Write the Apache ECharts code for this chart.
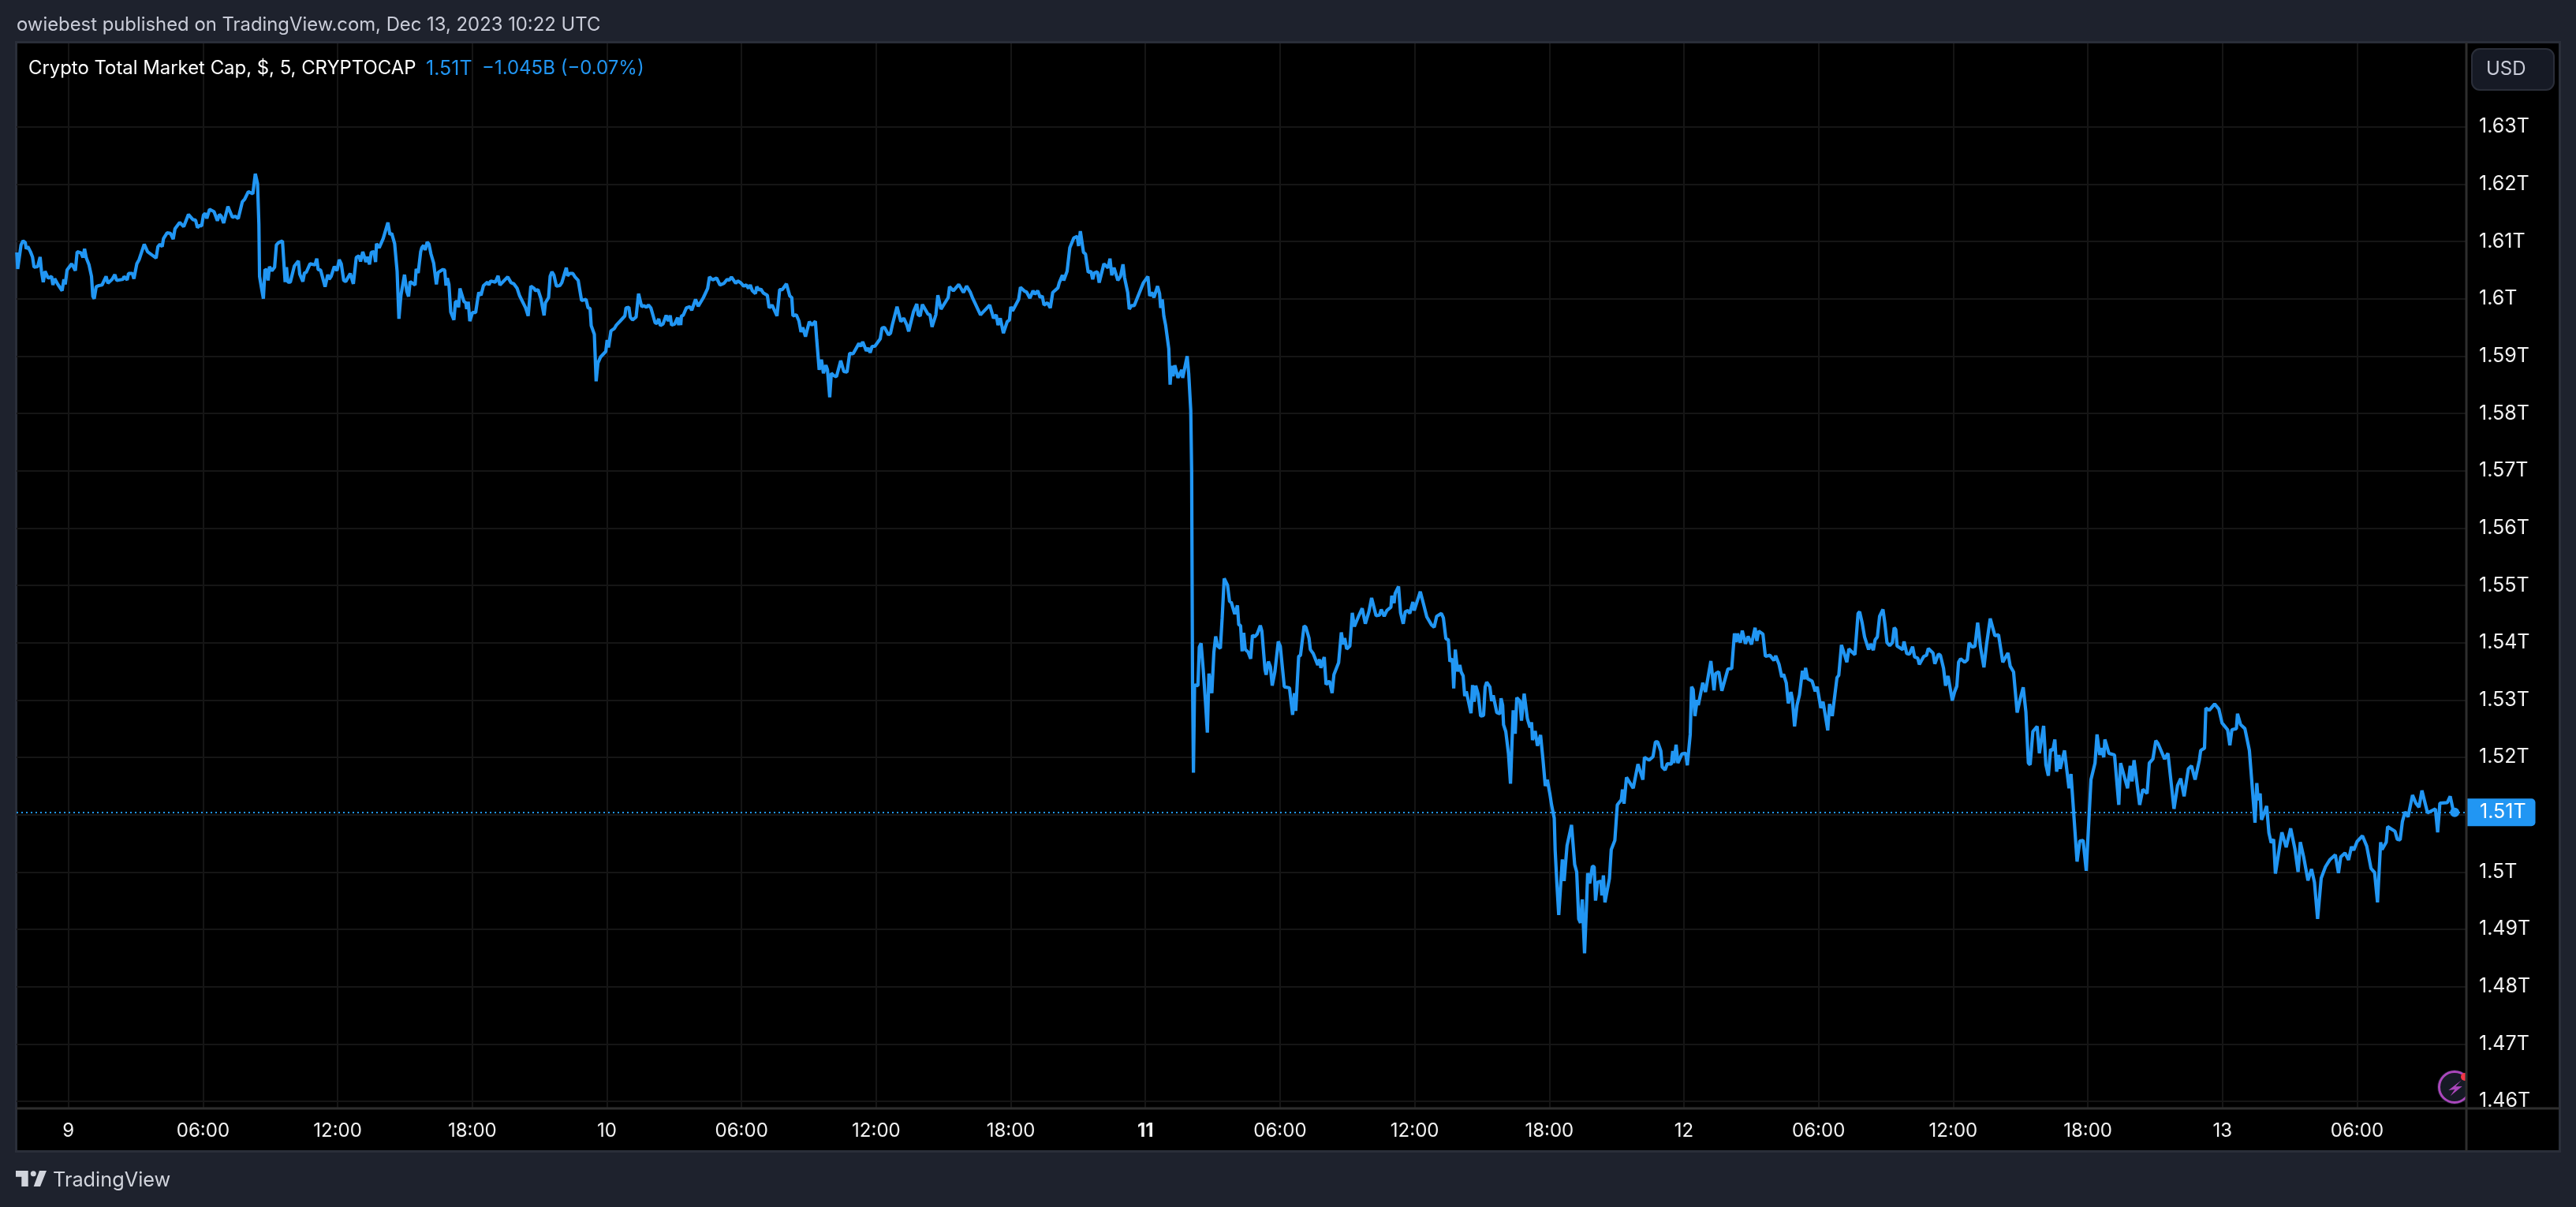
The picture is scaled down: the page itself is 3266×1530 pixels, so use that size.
<!DOCTYPE html>
<html>
<head>
<meta charset="utf-8">
<title>Crypto Total Market Cap</title>
<script src="https://cdn.jsdelivr.net/npm/echarts@6/dist/echarts.min.js"></script>
<style>
  html, body { margin: 0; height: 100%; background: #1e222d; }
  #main { width: 100%; height: 100%; }
</style>
</head>
<body>
<div id="main"></div>
<script>
// x = hours since Dec 9 00:00 UTC, y = market cap in billions
const capByHour = [
  [-2.30,1608.1],[-2.26,1605.2],[-2.22,1605.0],[-2.11,1609.4],[-2.02,1610.1],[-1.92,1609.8],[-1.88,1608.7],[-1.81,1609.1],
  [-1.69,1608.2],[-1.60,1607.3],[-1.53,1605.5],[-1.37,1605.6],[-1.26,1607.3],[-1.20,1604.8],[-1.12,1602.9],[-1.04,1604.8],
  [-0.99,1604.8],[-0.90,1603.6],[-0.75,1603.9],[-0.69,1602.4],[-0.61,1603.5],[-0.47,1602.5],[-0.28,1601.4],[-0.20,1603.4],
  [-0.14,1602.5],[-0.06,1605.0],[0.15,1606.1],[0.31,1604.9],[0.39,1608.2],[0.56,1608.0],[0.65,1607.2],[0.72,1608.7],
  [0.80,1607.1],[0.92,1605.9],[1.03,1603.9],[1.09,1600.4],[1.15,1600.0],[1.24,1602.1],[1.36,1602.3],[1.50,1602.4],
  [1.68,1603.9],[1.76,1602.7],[1.95,1603.4],[2.07,1604.2],[2.15,1603.2],[2.44,1603.4],[2.48,1603.9],[2.62,1603.3],
  [2.68,1604.4],[2.85,1604.4],[2.92,1603.5],[3.05,1606.1],[3.15,1606.8],[3.38,1609.5],[3.53,1608.2],[3.91,1607.1],
  [3.99,1609.1],[4.08,1609.5],[4.18,1609.1],[4.24,1610.5],[4.40,1611.5],[4.55,1611.4],[4.67,1610.4],[4.75,1612.2],
  [4.96,1613.3],[5.14,1612.6],[5.35,1614.7],[5.55,1613.8],[5.67,1613.7],[5.75,1612.4],[5.85,1612.8],[5.94,1612.7],
  [6.02,1614.6],[6.10,1614.9],[6.17,1614.0],[6.29,1615.6],[6.49,1615.2],[6.64,1613.6],[6.73,1614.7],[6.81,1614.4],
  [6.92,1613.2],[7.11,1616.1],[7.31,1614.2],[7.43,1614.4],[7.57,1614.0],[7.75,1616.9],[7.86,1617.4],[8.02,1618.7],
  [8.22,1618.3],[8.33,1621.8],[8.43,1620.1],[8.49,1613.0],[8.52,1603.9],[8.60,1602.0],[8.69,1600.0],[8.76,1605.1],
  [8.84,1605.0],[8.90,1603.2],[8.96,1605.6],[9.07,1604.9],[9.19,1605.5],[9.27,1609.4],[9.37,1609.8],[9.54,1610.1],
  [9.66,1602.9],[9.72,1605.5],[9.78,1602.9],[9.89,1602.9],[10.07,1605.7],[10.25,1606.6],[10.31,1604.3],[10.45,1603.0],
  [10.52,1604.5],[10.60,1604.6],[10.77,1606.1],[10.99,1605.9],[11.07,1607.0],[11.13,1605.1],[11.24,1605.0],[11.44,1602.1],
  [11.56,1604.2],[11.62,1603.4],[11.71,1603.9],[11.85,1605.6],[11.97,1604.9],[12.07,1606.8],[12.16,1606.1],[12.27,1603.2],
  [12.36,1603.0],[12.56,1604.4],[12.70,1602.6],[12.83,1607.2],[12.95,1607.5],[13.02,1606.5],[13.12,1608.2],[13.26,1606.4],
  [13.33,1607.3],[13.42,1606.0],[13.50,1608.1],[13.62,1608.2],[13.69,1606.4],[13.73,1609.6],[13.85,1608.9],[14.03,1610.5],
  [14.24,1613.3],[14.33,1611.2],[14.41,1611.4],[14.54,1609.6],[14.65,1604.8],[14.73,1596.5],[14.82,1600.6],[14.98,1604.2],
  [15.02,1604.2],[15.08,1601.3],[15.16,1600.4],[15.23,1603.0],[15.45,1602.4],[15.50,1605.2],[15.59,1604.5],[15.70,1608.2],
  [15.75,1608.9],[15.83,1609.3],[15.90,1608.5],[15.99,1609.9],[16.07,1609.5],[16.16,1607.8],[16.28,1606.2],[16.40,1602.5],
  [16.48,1604.6],[16.55,1604.4],[16.69,1605.1],[16.77,1605.0],[16.83,1602.3],[16.89,1603.6],[16.96,1602.5],[17.00,1602.3],
  [17.04,1597.7],[17.18,1596.3],[17.25,1599.5],[17.33,1599.5],[17.39,1598.5],[17.45,1601.8],[17.63,1599.5],[17.71,1599.3],
  [17.75,1598.2],[17.82,1599.5],[17.89,1596.1],[18.01,1597.6],[18.15,1597.6],[18.25,1600.2],[18.29,1601.1],[18.39,1600.6],
  [18.50,1602.3],[18.68,1602.9],[18.74,1602.4],[18.82,1603.1],[19.03,1602.9],[19.15,1604.0],[19.23,1602.4],[19.58,1603.8],
  [19.73,1602.8],[19.85,1602.6],[20.00,1601.8],[20.11,1600.5],[20.38,1598.4],[20.49,1597.0],[20.61,1602.2],[20.76,1601.8],
  [20.81,1601.4],[20.93,1601.6],[21.06,1600.0],[21.20,1597.1],[21.26,1599.3],[21.40,1600.2],[21.47,1603.9],[21.55,1604.7],
  [21.64,1604.1],[21.75,1602.2],[21.90,1602.3],[21.99,1602.8],[22.19,1605.4],[22.25,1604.0],[22.33,1604.4],[22.48,1604.4],
  [22.58,1603.8],[22.72,1603.2],[22.87,1599.7],[23.07,1599.9],[23.16,1598.4],[23.25,1598.3],[23.30,1595.3],[23.44,1593.8],
  [23.52,1585.6],[23.60,1588.8],[23.71,1589.8],[23.95,1590.8],[24.01,1592.8],[24.07,1591.5],[24.18,1594.4],[24.33,1594.8],
  [24.42,1595.4],[24.59,1596.1],[24.80,1597.0],[24.85,1598.4],[24.98,1598.5],[25.04,1596.8],[25.14,1596.3],[25.30,1596.8],
  [25.41,1600.9],[25.55,1598.6],[25.65,1598.8],[25.70,1598.9],[25.76,1598.5],[25.85,1598.9],[25.96,1598.4],[26.15,1595.8],
  [26.23,1595.7],[26.31,1596.5],[26.38,1595.3],[26.50,1595.6],[26.64,1597.1],[26.74,1596.1],[26.82,1597.1],[26.88,1595.4],
  [27.02,1595.6],[27.15,1596.7],[27.20,1595.4],[27.26,1596.7],[27.29,1595.4],[27.32,1597.0],[27.40,1597.1],[27.54,1598.4],
  [27.70,1598.6],[27.78,1598.0],[27.95,1599.9],[28.07,1598.7],[28.14,1598.5],[28.30,1600.2],[28.49,1601.8],[28.57,1603.8],
  [28.63,1603.9],[28.71,1603.3],[28.89,1603.6],[29.04,1602.4],[29.22,1602.7],[29.36,1603.4],[29.45,1603.2],[29.55,1603.8],
  [29.74,1602.7],[29.83,1603.1],[29.96,1602.8],[30.10,1602.2],[30.21,1602.4],[30.31,1601.8],[30.39,1602.4],[30.48,1601.4],
  [30.62,1600.9],[30.68,1602.1],[30.78,1601.5],[30.86,1601.7],[30.97,1601.0],[31.15,1600.6],[31.23,1598.4],[31.36,1598.9],
  [31.58,1597.0],[31.70,1601.6],[31.82,1601.6],[32.00,1602.6],[32.15,1600.5],[32.24,1600.2],[32.29,1597.0],[32.44,1597.2],
  [32.56,1596.1],[32.65,1594.2],[32.73,1595.0],[32.85,1593.4],[33.02,1596.0],[33.14,1595.4],[33.29,1596.1],[33.35,1592.9],
  [33.46,1587.6],[33.56,1589.4],[33.65,1587.0],[33.76,1588.4],[33.83,1587.6],[33.93,1582.8],[34.00,1587.0],[34.11,1586.6],
  [34.23,1586.4],[34.42,1589.2],[34.56,1587.3],[34.70,1587.2],[34.82,1590.5],[34.97,1590.4],[35.23,1592.2],[35.32,1591.7],
  [35.40,1592.5],[35.56,1590.9],[35.64,1591.4],[35.73,1590.6],[35.82,1591.7],[35.94,1591.7],[36.18,1593.0],[36.26,1594.9],
  [36.37,1595.0],[36.55,1593.7],[36.64,1594.0],[36.73,1595.6],[36.93,1598.6],[37.10,1596.0],[37.23,1596.6],[37.37,1595.4],
  [37.45,1594.3],[37.52,1594.4],[37.66,1597.7],[37.81,1599.1],[37.87,1597.2],[37.96,1597.0],[38.06,1599.0],[38.31,1597.3],
  [38.40,1597.2],[38.49,1595.1],[38.66,1597.2],[38.75,1600.6],[38.89,1598.2],[39.21,1600.2],[39.27,1602.1],[39.44,1601.4],
  [39.68,1602.5],[39.89,1601.1],[40.03,1602.2],[40.20,1601.1],[40.30,1600.1],[40.65,1597.2],[40.77,1597.7],[41.06,1598.9],
  [41.23,1596.6],[41.35,1597.2],[41.43,1595.4],[41.53,1596.6],[41.67,1594.0],[41.84,1596.0],[41.94,1596.3],[42.00,1598.6],
  [42.08,1597.9],[42.35,1599.9],[42.43,1602.0],[42.50,1602.2],[42.62,1601.3],[42.70,1601.2],[42.85,1600.1],[42.99,1601.4],
  [43.08,1600.8],[43.20,1601.4],[43.31,1600.2],[43.40,1600.5],[43.48,1598.9],[43.63,1599.3],[43.67,1599.5],[43.76,1598.4],
  [43.87,1601.1],[44.10,1601.9],[44.16,1602.8],[44.30,1604.1],[44.36,1603.2],[44.51,1604.8],[44.63,1608.9],[44.81,1610.6],
  [44.96,1610.9],[45.02,1609.2],[45.10,1611.8],[45.24,1608.1],[45.33,1607.8],[45.45,1604.6],[45.57,1604.8],[45.65,1603.4],
  [45.72,1604.5],[45.86,1604.7],[45.94,1602.8],[46.15,1606.1],[46.33,1605.4],[46.42,1607.0],[46.50,1604.1],[46.60,1605.4],
  [46.77,1603.2],[46.89,1603.9],[47.00,1606.0],[47.07,1603.7],[47.21,1601.1],[47.28,1598.2],[47.38,1598.8],[47.50,1598.8],
  [47.91,1602.8],[48.11,1603.9],[48.19,1600.5],[48.28,1601.1],[48.38,1600.2],[48.54,1602.2],[48.63,1600.9],[48.68,1598.4],
  [48.75,1599.9],[48.82,1597.0],[48.90,1595.4],[49.04,1591.3],[49.10,1585.0],[49.16,1588.3],[49.23,1586.5],[49.31,1588.4],
  [49.45,1586.2],[49.62,1587.6],[49.66,1586.2],[49.86,1590.0],[49.93,1586.9],[50.02,1580.5],[50.06,1570.0],[50.10,1533.0],
  [50.14,1517.3],[50.19,1532.6],[50.34,1532.5],[50.40,1539.2],[50.48,1539.9],[50.58,1535.1],[50.67,1530.0],[50.76,1524.3],
  [50.83,1534.6],[50.96,1531.2],[51.05,1538.3],[51.13,1541.1],[51.22,1539.4],[51.34,1539.0],[51.42,1544.3],[51.51,1551.2],
  [51.66,1550.0],[51.75,1547.2],[51.83,1547.0],[51.98,1545.0],[52.10,1546.5],[52.16,1543.1],[52.24,1543.0],[52.31,1538.5],
  [52.38,1541.7],[52.45,1538.8],[52.57,1538.4],[52.69,1537.2],[52.77,1541.3],[52.86,1541.0],[52.98,1541.5],[53.12,1543.0],
  [53.19,1542.0],[53.33,1535.3],[53.38,1534.4],[53.48,1536.7],[53.57,1535.8],[53.65,1532.5],[53.77,1534.9],[53.92,1540.2],
  [54.01,1539.4],[54.19,1532.3],[54.42,1532.1],[54.56,1527.4],[54.64,1531.2],[54.70,1528.1],[54.83,1537.6],[54.91,1537.8],
  [55.07,1542.9],[55.15,1542.7],[55.29,1540.8],[55.35,1538.8],[55.48,1538.1],[55.68,1536.1],[55.76,1537.1],[55.82,1535.6],
  [55.97,1537.5],[56.05,1532.7],[56.20,1533.3],[56.32,1531.2],[56.40,1534.4],[56.61,1536.5],[56.73,1541.8],[56.81,1539.7],
  [56.88,1540.8],[56.97,1538.9],[57.11,1539.4],[57.22,1545.2],[57.31,1542.8],[57.38,1543.0],[57.52,1544.8],[57.66,1546.0],
  [57.80,1543.3],[57.96,1545.4],[58.08,1547.8],[58.28,1544.7],[58.43,1544.8],[58.51,1545.8],[58.64,1544.6],[58.76,1545.6],
  [58.94,1546.2],[58.98,1548.2],[59.08,1546.9],[59.13,1548.6],[59.28,1549.8],[59.37,1545.2],[59.49,1543.3],[59.58,1545.4],
  [59.70,1545.6],[59.78,1545.1],[59.92,1547.1],[59.98,1545.6],[60.25,1548.9],[60.39,1546.8],[60.45,1546.9],[60.54,1544.5],
  [60.75,1543.1],[60.87,1542.7],[60.98,1544.6],[61.19,1545.1],[61.28,1544.3],[61.39,1540.7],[61.50,1540.5],[61.57,1536.7],
  [61.68,1537.2],[61.74,1532.0],[61.81,1538.8],[61.91,1535.0],[62.01,1536.1],[62.07,1534.9],[62.16,1534.2],[62.23,1530.7],
  [62.30,1531.5],[62.51,1527.7],[62.58,1532.6],[62.65,1529.7],[62.72,1532.5],[62.83,1531.0],[62.94,1527.2],[63.07,1527.3],
  [63.14,1532.3],[63.21,1533.1],[63.35,1532.3],[63.43,1529.8],[63.50,1530.8],[63.66,1527.8],[63.80,1527.6],[63.85,1530.3],
  [63.92,1529.1],[63.96,1525.7],[64.06,1524.5],[64.18,1520.6],[64.27,1515.4],[64.39,1528.2],[64.48,1524.1],[64.55,1530.4],
  [64.69,1529.8],[64.76,1526.4],[64.88,1531.1],[65.02,1526.8],[65.14,1525.2],[65.21,1526.1],[65.25,1523.0],[65.37,1524.6],
  [65.47,1522.0],[65.61,1523.9],[65.72,1519.5],[65.82,1515.0],[65.91,1516.1],[66.03,1513.5],[66.10,1511.7],[66.22,1509.4],
  [66.26,1503.8],[66.34,1497.8],[66.42,1492.5],[66.58,1502.2],[66.66,1498.4],[66.79,1504.6],[66.99,1508.2],[67.13,1501.3],
  [67.22,1500.0],[67.31,1491.8],[67.39,1491.1],[67.47,1495.2],[67.57,1485.8],[67.66,1494.3],[67.71,1499.8],[67.80,1498.0],
  [67.92,1501.0],[68.00,1500.9],[68.06,1495.0],[68.15,1498.2],[68.30,1498.4],[68.34,1495.9],[68.41,1499.4],[68.48,1494.7],
  [68.68,1498.9],[68.76,1503.9],[68.92,1505.5],[69.03,1511.7],[69.21,1512.6],[69.26,1514.4],[69.33,1511.9],[69.44,1516.5],
  [69.74,1514.6],[69.95,1518.8],[70.17,1516.1],[70.24,1520.0],[70.44,1519.5],[70.62,1520.1],[70.73,1522.7],[70.83,1522.7],
  [70.97,1521.1],[71.03,1518.3],[71.16,1517.8],[71.26,1518.9],[71.44,1518.8],[71.50,1521.1],[71.55,1519.0],[71.65,1522.2],
  [71.73,1519.0],[71.91,1520.6],[72.08,1520.7],[72.15,1518.6],[72.28,1524.0],[72.34,1532.3],[72.41,1531.8],[72.49,1527.2],
  [72.59,1530.0],[72.64,1529.1],[72.84,1533.0],[72.96,1531.4],[73.20,1536.8],[73.34,1531.7],[73.41,1534.6],[73.55,1534.9],
  [73.69,1531.6],[73.96,1535.4],[74.13,1535.5],[74.25,1541.6],[74.33,1540.1],[74.39,1541.6],[74.51,1540.0],[74.60,1542.1],
  [74.74,1539.8],[74.86,1541.1],[75.01,1539.7],[75.17,1542.6],[75.25,1540.3],[75.33,1542.0],[75.52,1541.5],[75.63,1537.6],
  [75.83,1537.8],[76.01,1536.9],[76.09,1537.7],[76.24,1536.2],[76.36,1534.0],[76.44,1534.5],[76.56,1533.0],[76.65,1529.4],
  [76.77,1531.4],[76.83,1530.2],[76.93,1525.4],[77.04,1529.1],[77.15,1530.9],[77.28,1535.1],[77.36,1533.6],[77.42,1535.6],
  [77.51,1533.7],[77.71,1533.3],[77.85,1531.5],[77.94,1532.3],[78.10,1528.6],[78.20,1529.7],[78.41,1524.7],[78.49,1529.3],
  [78.61,1527.2],[78.82,1533.9],[78.90,1534.3],[79.02,1539.6],[79.15,1538.0],[79.26,1536.6],[79.35,1538.9],[79.62,1537.9],
  [79.76,1545.1],[79.83,1545.4],[79.94,1543.5],[80.05,1541.0],[80.23,1538.8],[80.32,1539.8],[80.44,1538.7],[80.52,1540.5],
  [80.62,1541.0],[80.72,1544.6],[80.87,1545.8],[80.96,1543.2],[81.05,1540.0],[81.17,1539.5],[81.29,1540.0],[81.37,1542.6],
  [81.44,1542.3],[81.50,1539.4],[81.75,1538.8],[81.81,1540.2],[81.93,1538.1],[82.05,1538.0],[82.19,1539.3],[82.28,1537.5],
  [82.42,1537.3],[82.49,1536.2],[82.69,1537.6],[82.81,1537.8],[82.89,1539.0],[83.10,1538.2],[83.18,1536.3],[83.34,1538.0],
  [83.43,1537.8],[83.57,1535.5],[83.66,1532.5],[83.77,1534.2],[83.96,1529.9],[84.06,1531.4],[84.16,1532.4],[84.24,1536.6],
  [84.33,1537.2],[84.51,1536.6],[84.63,1537.0],[84.71,1540.0],[84.86,1539.2],[84.97,1539.4],[85.09,1543.5],[85.22,1539.1],
  [85.37,1535.7],[85.49,1539.8],[85.65,1544.2],[85.86,1541.2],[86.02,1541.4],[86.21,1536.6],[86.44,1538.2],[86.54,1535.9],
  [86.69,1534.9],[86.85,1527.8],[86.98,1530.1],[87.12,1532.2],[87.24,1527.9],[87.35,1519.0],[87.43,1518.7],[87.55,1524.5],
  [87.74,1525.4],[87.84,1520.7],[88.03,1525.5],[88.13,1518.7],[88.24,1516.8],[88.34,1521.4],[88.44,1521.2],[88.53,1523.1],
  [88.61,1517.5],[88.71,1520.4],[88.77,1518.0],[88.96,1521.2],[89.16,1514.6],[89.25,1517.1],[89.52,1501.8],[89.64,1505.4],
  [89.79,1505.5],[89.93,1500.2],[90.14,1516.1],[90.32,1519.0],[90.41,1524.0],[90.53,1520.4],[90.61,1521.6],[90.71,1520.0],
  [90.76,1523.1],[90.94,1520.7],[91.19,1520.4],[91.38,1511.7],[91.46,1519.0],[91.77,1514.6],[91.89,1518.5],[91.97,1515.8],
  [92.06,1519.5],[92.31,1511.7],[92.45,1514.4],[92.64,1513.7],[92.74,1519.0],[92.90,1519.7],[93.03,1522.9],[93.13,1522.4],
  [93.42,1519.7],[93.57,1520.7],[93.84,1511.0],[93.90,1510.8],[94.00,1515.1],[94.14,1516.3],[94.29,1513.2],[94.48,1518.0],
  [94.62,1518.5],[94.78,1516.1],[94.97,1519.5],[95.03,1521.2],[95.20,1521.6],[95.26,1528.6],[95.41,1528.2],[95.65,1529.3],
  [95.84,1528.4],[95.98,1526.0],[96.23,1524.8],[96.33,1522.1],[96.42,1524.8],[96.62,1525.0],[96.67,1527.6],[96.81,1525.7],
  [97.00,1525.0],[97.20,1521.2],[97.45,1508.6],[97.53,1515.5],[97.59,1512.5],[97.68,1513.7],[97.74,1509.1],[97.88,1510.5],
  [97.97,1511.5],[98.07,1506.8],[98.17,1505.1],[98.28,1505.7],[98.36,1499.7],[98.55,1504.5],[98.65,1506.9],[98.84,1504.3],
  [99.04,1507.6],[99.23,1504.0],[99.37,1500.0],[99.47,1505.2],[99.62,1502.6],[99.81,1498.5],[99.97,1500.5],[100.10,1498.2],
  [100.24,1491.8],[100.40,1498.9],[100.59,1500.9],[100.78,1502.1],[101.03,1503.0],[101.17,1499.8],[101.27,1502.6],[101.46,1503.3],
  [101.62,1502.1],[101.75,1504.4],[101.85,1503.8],[102.00,1505.3],[102.24,1506.3],[102.43,1504.5],[102.62,1500.6],[102.78,1499.9],
  [102.91,1494.7],[103.05,1505.2],[103.11,1503.9],[103.30,1505.2],[103.36,1507.9],[103.69,1507.1],[103.79,1505.7],[103.92,1505.6],
  [104.02,1508.8],[104.14,1510.5],[104.27,1509.6],[104.47,1513.4],[104.62,1512.0],[104.76,1511.3],[104.89,1514.2],[105.14,1510.3],
  [105.49,1511.0],[105.59,1506.9],[105.69,1512.0],[106.02,1512.1],[106.15,1513.2],[106.27,1511.0],[106.35,1510.4]
];
const hourTicks = [0, 6, 12, 18, 24, 30, 36, 42, 48, 54, 60, 66, 72, 78, 84, 90, 96, 102];
const hourLabels = ['9', '06:00', '12:00', '18:00', '10', '06:00', '12:00', '18:00', '11',
  '06:00', '12:00', '18:00', '12', '06:00', '12:00', '18:00', '13', '06:00'];
const priceTicks = [1460, 1470, 1480, 1490, 1500, 1510, 1520, 1530, 1540, 1550, 1560, 1570, 1580, 1590, 1600, 1610, 1620, 1630];
const priceLabels = ['1.46T', '1.47T', '1.48T', '1.49T', '1.5T', '1.51T', '1.52T', '1.53T', '1.54T', '1.55T',
  '1.56T', '1.57T', '1.58T', '1.59T', '1.6T', '1.61T', '1.62T', '1.63T'];
const lastPoint = capByHour[capByHour.length - 1];

const blue = '#2196f3';
const font = 'Inter';

function text(x, y, str, size, color) {
  return {
    type: 'text', z: 10, x: x, y: y,
    style: { text: str, font: size + 'px ' + font, fill: color, textVerticalAlign: 'middle' }
  };
}

const chart = echarts.init(document.getElementById('main'));
const option = {
  animation: false,
  backgroundColor: '#1e222d',
  grid: { left: 21, right: 139, top: 55, bottom: 125 },
  xAxis: {
    type: 'value',
    min: -2.31,
    max: 106.87,
    axisLine: { show: false },
    axisTick: { show: false, customValues: hourTicks },
    splitLine: { show: true, lineStyle: { color: '#151515', width: 2 } },
    axisLabel: {
      customValues: hourTicks,
      margin: 17,
      fontFamily: font,
      fontSize: 24,
      color: '#f2f2f2',
      formatter: function(value) {
        const label = hourLabels[hourTicks.indexOf(value)];
        return label === '11' ? '{bold|11}' : label;
      },
      rich: { bold: { fontFamily: font, fontSize: 24, fontWeight: 'bold', color: '#f2f2f2' } }
    }
  },
  yAxis: {
    type: 'value',
    position: 'right',
    min: 1458.75,
    max: 1644.55,
    axisLine: { show: false },
    axisTick: { show: false, customValues: priceTicks },
    splitLine: { show: true, lineStyle: { color: '#151515', width: 2 } },
    axisLabel: {
      customValues: priceTicks,
      margin: 16,
      padding: [3, 0, 0, 0],
      fontFamily: font,
      fontSize: 25,
      color: '#f2f2f2',
      formatter: function(value) {
        return priceLabels[priceTicks.indexOf(value)];
      }
    }
  },
  series: [
    {
      type: 'line',
      data: capByHour,
      showSymbol: false,
      silent: true,
      lineStyle: { color: blue, width: 4.2 },
      itemStyle: { color: blue },
      markLine: {
        silent: true,
        symbol: 'none',
        lineStyle: { color: blue, type: [2, 4], width: 2 },
        data: [{ yAxis: lastPoint[1] }],
        label: {
          show: true,
          position: 'end',
          distance: 0,
          formatter: '1.51T',
          fontFamily: font,
          fontSize: 25,
          color: '#ffffff',
          backgroundColor: blue,
          borderRadius: [0, 5, 5, 0],
          padding: [5, 12, 5, 17]
        }
      },
      markPoint: {
        silent: true,
        symbol: 'circle',
        symbolSize: 12,
        itemStyle: { color: blue },
        label: { show: false },
        data: [{ coord: lastPoint }]
      }
    }
  ],
  graphic: [
    // panels
    { type: 'rect', z: -1, shape: { x: 20.5, y: 53.5, width: 3225, height: 1406 }, style: { fill: '#000000', stroke: '#2a2e39', lineWidth: 3 } },
    // header, legend
    text(21, 32, 'owiebest published on TradingView.com, Dec 13, 2023 10:22 UTC', 23.85, '#c9ccd8'),
    text(36, 87, 'Crypto Total Market Cap, $, 5, CRYPTOCAP', 23.9, '#ffffff'),
    text(540, 87, '1.51T', 25, blue),
    text(611, 87, '\u22121.045B (\u22120.07%)', 24, blue),
    // currency button
    { type: 'rect', z: 10, shape: { x: 3134, y: 62, width: 104, height: 52, r: 10 }, style: { fill: '#161a25', stroke: '#2a2e39', lineWidth: 2 } },
    text(3152, 88, 'USD', 24, '#c9ccd8'),
    // alert icon, cut by the price scale
    { type: 'circle', z: 5, shape: { cx: 3112, cy: 1378, r: 22 }, style: { fill: '#161a25' } },
    { type: 'circle', z: 5, shape: { cx: 3112, cy: 1378, r: 19.5 }, style: { fill: '#161a25', stroke: '#ab47bc', lineWidth: 3 } },
    { type: 'polygon', z: 5, shape: { points: [[3120.7, 1369.3], [3104.3, 1382], [3112.3, 1381], [3106.7, 1389.3], [3121.7, 1377], [3113.3, 1377.3]] }, style: { fill: '#ab47bc' } },
    { type: 'circle', z: 5, shape: { cx: 3125, cy: 1365, r: 5 }, style: { fill: '#f23645' } },
    { type: 'rect', z: 6, shape: { x: 3127, y: 1350, width: 12, height: 55 }, style: { fill: '#000000' } },
    // dividers
    { type: 'line', z: 7, shape: { x1: 3127, y1: 54, x2: 3127, y2: 1459 }, style: { stroke: '#2e2e2e', lineWidth: 3 } },
    { type: 'line', z: 7, shape: { x1: 21, y1: 1405, x2: 3245, y2: 1405 }, style: { stroke: '#2e2e2e', lineWidth: 3 } },
    // footer logo
    { type: 'polygon', z: 10, shape: { points: [[20, 1484], [35.7, 1484], [35.7, 1504], [27.3, 1504], [27.3, 1491.7], [20, 1491.7]] }, style: { fill: '#d1d4dc' } },
    { type: 'circle', z: 10, shape: { cx: 42.3, cy: 1487.7, r: 3.5 }, style: { fill: '#d1d4dc' } },
    { type: 'polygon', z: 10, shape: { points: [[50, 1484], [59, 1484], [51, 1504], [42.7, 1504]] }, style: { fill: '#d1d4dc' } },
    text(67, 1496, 'TradingView', 25.3, '#d1d4dc')
  ]
};
chart.setOption(option);

window.onresize = function() {
  chart.resize();
};
</script>
</body>
</html>
